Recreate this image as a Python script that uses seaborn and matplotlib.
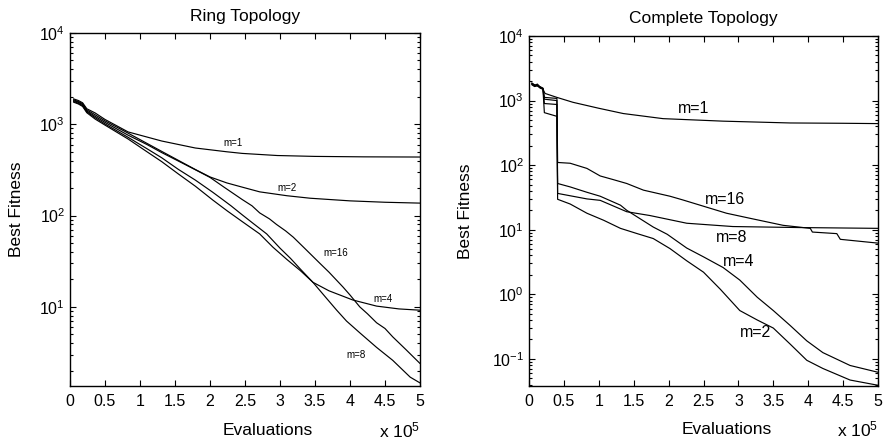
import matplotlib
matplotlib.use("Agg")
import matplotlib.pyplot as plt
import seaborn as sns
import pandas as pd
from matplotlib.ticker import LogLocator, FixedLocator

# ---------------- data (x in units of 1e5 evaluations) ----------------
# Ring topology
ring_m1_x = [0.05, 0.12, 0.18, 0.24, 0.36, 0.5, 0.83, 1.31, 1.79, 2.24, 2.46, 2.96, 3.5, 4.2, 5.0]
ring_m1_y = [1900, 1820, 1720, 1480, 1330, 1130, 825, 656, 550, 500, 480, 455, 445, 440, 438]

ring_m2_x = [0.05, 0.12, 0.18, 0.24, 0.36, 0.5, 0.83, 1.31, 1.79, 2.0, 2.24, 2.46, 2.71, 3.1, 3.43, 4.0, 4.5, 5.0]
ring_m2_y = [1860, 1770, 1680, 1440, 1270, 1090, 800, 505, 320, 265, 228, 205, 182, 165, 155, 145, 140, 137]

ring_m16_x = [0.05, 0.12, 0.18, 0.24, 0.36, 0.5, 0.83, 1.1, 1.31, 1.55, 1.79, 2.0, 2.2, 2.46, 2.6, 2.71, 2.85, 2.95, 3.08, 3.19, 3.35,
              3.57, 3.7, 3.9, 4.0, 4.14, 4.25, 4.38, 4.5, 4.61, 4.8, 5.0]
ring_m16_y = [1820, 1740, 1640, 1400, 1220, 1050, 760, 600, 490, 395, 318, 262, 205, 150, 128, 107, 92, 80, 68, 58, 44,
              30, 24, 16.5, 13.5, 10, 8.4, 6.7, 5.8, 4.7, 3.4, 2.4]

ring_m4_x = [0.05, 0.12, 0.18, 0.24, 0.36, 0.5, 0.83, 1.1, 1.31, 1.55, 1.79, 2.04, 2.19, 2.3, 2.46, 2.6, 2.81, 3.0, 3.15, 3.29,
             3.47, 3.7, 4.04, 4.38, 4.7, 5.0]
ring_m4_y = [1780, 1700, 1600, 1370, 1180, 1010, 720, 540, 430, 320, 245, 180, 148, 128, 102, 84, 63, 44, 34, 26,
             18.6, 15, 11.9, 10.2, 9.5, 9.2]

ring_m8_x = [0.05, 0.12, 0.18, 0.24, 0.36, 0.5, 0.83, 1.1, 1.31, 1.55, 1.79, 2.04, 2.25, 2.46, 2.71, 2.9, 3.1, 3.29, 3.47, 3.65,
             3.81, 3.95, 4.14, 4.38, 4.61, 4.86, 5.0]
ring_m8_y = [1750, 1670, 1570, 1340, 1140, 980, 690, 500, 390, 285, 210, 148, 112, 86, 63, 45, 33, 25, 18.6, 12.8,
             9.2, 7.0, 5.2, 3.6, 2.6, 1.7, 1.47]

ring_labels = ["m=1", "m=2", "m=16", "m=4", "m=8"]
ring_label_x = [2.33, 3.1, 3.79, 4.47, 4.09]
ring_label_y = [623, 200, 39, 12.2, 2.97]

# Complete topology
comp_m1_x = [0.04, 0.08, 0.12, 0.16, 0.2, 0.23, 0.4, 0.63, 1.0, 1.35, 1.92, 2.78, 3.74, 4.5, 5.0]
comp_m1_y = [1880, 1720, 1800, 1620, 1500, 1290, 1120, 940, 760, 630, 525, 480, 450, 445, 440]

comp_m16_x = [0.04, 0.08, 0.12, 0.16, 0.2, 0.22, 0.4, 0.41, 0.59, 0.83, 1.02, 1.2, 1.4, 1.64, 2.02, 2.2, 2.45, 2.83, 3.17, 3.64,
              4.03, 4.06, 4.41, 4.46, 5.0]
comp_m16_y = [1850, 1760, 1700, 1640, 1560, 1120, 1080, 110, 107, 89, 68, 60, 52, 41, 33, 29, 24, 18, 15, 11.7,
              10.5, 9.2, 8.7, 7.1, 6.2]

comp_m8_x = [0.04, 0.08, 0.12, 0.16, 0.2, 0.22, 0.4, 0.41, 0.83, 1.02, 1.4, 1.73, 2.26, 2.92, 3.88, 5.0]
comp_m8_y = [1820, 1700, 1740, 1600, 1540, 1050, 1000, 36.5, 30, 28.5, 19, 16.6, 12.6, 11.2, 10.8, 10.5]

comp_m4_x = [0.04, 0.08, 0.12, 0.16, 0.2, 0.22, 0.4, 0.41, 0.59, 0.83, 1.02, 1.31, 1.4, 1.78, 1.98, 2.26, 2.5, 2.78, 3.02, 3.27,
             3.5, 3.74, 3.98, 4.21, 4.6, 5.0]
comp_m4_y = [1790, 1680, 1720, 1580, 1520, 900, 870, 52, 46, 38, 33, 24, 20, 11, 8.5, 5.2, 3.8, 2.6, 1.66, 0.9,
             0.56, 0.33, 0.19, 0.125, 0.079, 0.062]

comp_m2_x = [0.04, 0.08, 0.12, 0.16, 0.2, 0.22, 0.4, 0.41, 0.59, 0.83, 1.07, 1.31, 1.55, 1.78, 2.02, 2.26, 2.5, 2.74, 3.02, 3.27,
             3.5, 3.74, 3.98, 4.21, 4.6, 5.0]
comp_m2_y = [1760, 1650, 1690, 1560, 1500, 650, 570, 29.6, 25, 18, 14, 10.5, 8.7, 7.3, 5.1, 3.3, 2.2, 1.2, 0.56, 0.40,
             0.30, 0.17, 0.095, 0.071, 0.047, 0.039]

comp_labels = ["m=1", "m=16", "m=8", "m=4", "m=2"]
comp_label_x = [2.36, 2.81, 2.91, 3.0, 3.24]
comp_label_y = [760, 29.5, 7.6, 3.2, 0.26]

x_ticks = [0, 0.5, 1, 1.5, 2, 2.5, 3, 3.5, 4, 4.5, 5]
x_tick_labels = ["0", "0.5", "1", "1.5", "2", "2.5", "3", "3.5", "4", "4.5", "5"]

# ---------------- style ----------------
sns.set_style("ticks")
plt.rcParams["font.family"] = ["Liberation Sans", "DejaVu Sans"]
plt.rcParams["mathtext.fontset"] = "custom"
plt.rcParams["mathtext.rm"] = "Liberation Sans"
plt.rcParams["mathtext.it"] = "Liberation Sans:italic"
plt.rcParams["mathtext.bf"] = "Liberation Sans:bold"
for key in ["text.color", "axes.labelcolor", "xtick.color", "ytick.color", "axes.edgecolor"]:
    plt.rcParams[key] = "black"

fig = plt.figure(figsize=(8.9, 4.43), dpi=100)
axL = fig.add_axes([70 / 890, 1 - 386 / 443, 350 / 890, 353 / 443])
axR = fig.add_axes([529 / 890, 1 - 386 / 443, 349 / 890, 350 / 443])


def draw(ax, xs_list, ys_list):
    for xs, ys in zip(xs_list, ys_list):
        df = pd.DataFrame({"x": xs, "y": ys})
        sns.lineplot(data=df, x="x", y="y", ax=ax, color="black", lw=0.85,
                     estimator=None, sort=False)


draw(axL, [ring_m1_x, ring_m2_x, ring_m16_x, ring_m4_x, ring_m8_x],
     [ring_m1_y, ring_m2_y, ring_m16_y, ring_m4_y, ring_m8_y])
draw(axR, [comp_m1_x, comp_m16_x, comp_m8_x, comp_m4_x, comp_m2_x],
     [comp_m1_y, comp_m16_y, comp_m8_y, comp_m4_y, comp_m2_y])

for lab, lx, ly in zip(ring_labels, ring_label_x, ring_label_y):
    axL.text(lx, ly, lab, ha="center", va="center", fontsize=7)
for lab, lx, ly in zip(comp_labels, comp_label_x, comp_label_y):
    axR.text(lx, ly, lab, ha="center", va="center", fontsize=11.5)

for ax, ylim, title in [(axL, (1.36, 1e4), "Ring Topology"),
                        (axR, (0.038, 1e4), "Complete Topology")]:
    ax.set_yscale("log")
    ax.set_xlim(0, 5)
    ax.set_ylim(*ylim)
    ax.xaxis.set_major_locator(FixedLocator(x_ticks))
    ax.set_xticklabels(x_tick_labels)
    ax.yaxis.set_major_locator(LogLocator(base=10, numticks=12))
    ax.yaxis.set_minor_locator(LogLocator(base=10, subs=[2, 3, 4, 5, 6, 7, 8, 9], numticks=12))
    ax.tick_params(which="both", direction="in", top=True, right=True, labelsize=11.5, width=0.8,
                   colors="black")
    ax.tick_params(which="major", length=4)
    ax.tick_params(which="minor", length=2)
    ax.tick_params(axis="x", pad=6)
    for sp in ax.spines.values():
        sp.set_visible(True)
        sp.set_linewidth(1.0)
        sp.set_color("black")
    ax.set_title(title, fontsize=12.5, pad=9, color="black")
    ax.set_xlabel("")
    ax.set_ylabel("Best Fitness", fontsize=12.5, color="black")
    ax.text(0.566, -0.125, "Evaluations", transform=ax.transAxes,
            ha="center", va="center", fontsize=12.5)
    ax.text(1.0, -0.125, r"x 10$^{5}$", transform=ax.transAxes,
            ha="right", va="center", fontsize=12.5)

axL.yaxis.set_label_coords(-0.131, 0.5)
axR.yaxis.set_label_coords(-0.16, 0.5)

fig.savefig("out.png", dpi=100)
